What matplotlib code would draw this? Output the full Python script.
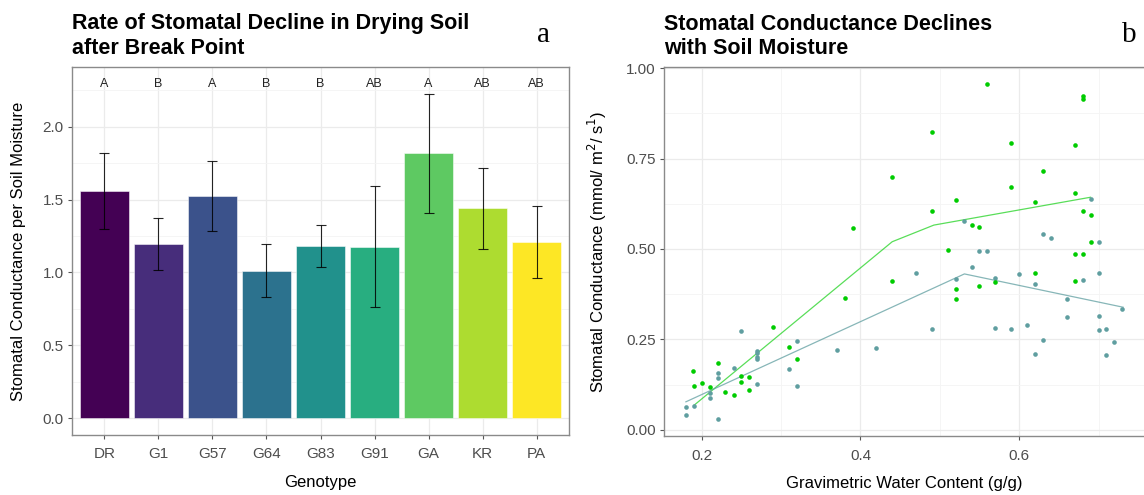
import numpy as np
import matplotlib.pyplot as plt

plt.rcParams['font.family'] = ['Liberation Sans', 'DejaVu Sans']

# bar chart: slope of conductance vs soil moisture per genotype
genotype = ['DR', 'G1', 'G57', 'G64', 'G83', 'G91', 'GA', 'KR', 'PA']
rate = [1.56, 1.197, 1.525, 1.013, 1.18, 1.178, 1.817, 1.44, 1.206]
rate_se = [0.26, 0.178, 0.24, 0.183, 0.144, 0.417, 0.41, 0.277, 0.247]
groups = ['A', 'B', 'A', 'B', 'B', 'AB', 'A', 'AB', 'AB']
group_y = 2.29

# scatter: gs vs gravimetric water content, two treatments
wet_x = [0.1895, 0.19, 0.20, 0.21, 0.22, 0.2295, 0.24, 0.25, 0.25, 0.26, 0.26,
         0.29, 0.31, 0.32, 0.38, 0.39, 0.44, 0.44, 0.49, 0.49, 0.51, 0.52, 0.52,
         0.52, 0.54, 0.55, 0.55, 0.56, 0.57, 0.59, 0.59, 0.62, 0.62, 0.63, 0.67,
         0.67, 0.67, 0.67, 0.68, 0.68, 0.68, 0.68, 0.69, 0.69]
wet_y = [0.162, 0.121, 0.130, 0.119, 0.184, 0.106, 0.095, 0.148, 0.132, 0.145, 0.109,
         0.285, 0.230, 0.195, 0.365, 0.557, 0.412, 0.698, 0.605, 0.823, 0.496, 0.388, 0.361,
         0.635, 0.566, 0.561, 0.399, 0.957, 0.408, 0.671, 0.793, 0.434, 0.629, 0.715, 0.412,
         0.485, 0.655, 0.788, 0.487, 0.605, 0.915, 0.924, 0.520, 0.594]
dry_x = [0.18, 0.18, 0.19, 0.21, 0.21, 0.22, 0.22, 0.22, 0.24, 0.25, 0.27, 0.27,
         0.27, 0.27, 0.27, 0.31, 0.32, 0.32, 0.37, 0.42, 0.47, 0.49, 0.52, 0.53,
         0.54, 0.55, 0.56, 0.57, 0.57, 0.59, 0.60, 0.61, 0.62, 0.62, 0.63, 0.63,
         0.64, 0.66, 0.66, 0.68, 0.69, 0.70, 0.70, 0.70, 0.70, 0.71, 0.71, 0.72, 0.73]
dry_y = [0.064, 0.042, 0.066, 0.101, 0.087, 0.158, 0.144, 0.029, 0.172, 0.273, 0.219, 0.213,
         0.202, 0.195, 0.127, 0.169, 0.246, 0.122, 0.221, 0.225, 0.434, 0.280, 0.417, 0.577,
         0.451, 0.494, 0.494, 0.421, 0.282, 0.279, 0.430, 0.290, 0.404, 0.210, 0.541, 0.249,
         0.531, 0.363, 0.311, 0.414, 0.637, 0.520, 0.434, 0.316, 0.275, 0.280, 0.206, 0.244, 0.335]

# fitted segmented lines
wet_fit_x = [0.19, 0.44, 0.4925, 0.69]
wet_fit_y = [0.0675, 0.520, 0.566, 0.643]
dry_fit_x = [0.18, 0.531, 0.731]
dry_fit_y = [0.0775, 0.431, 0.339]

wet_col = '#00CC00'
dry_col = '#5F9EA0'
grid_major = '#EBEBEB'
grid_minor = '#F4F4F4'
border = '#8A8A8A'
tick_txt = '#4D4D4D'

fig = plt.figure(figsize=(11.44, 4.95), dpi=100)
ax1 = fig.add_axes([72/1144, 60/495, 497/1144, 368/495])
ax2 = fig.add_axes([664/1144, 59/495, 481/1144, 369/495])


def style(ax):
    ax.set_axisbelow(True)
    ax.grid(which='major', color=grid_major, lw=0.9)
    ax.grid(which='minor', color=grid_minor, lw=0.6)
    for s in ax.spines.values():
        s.set_color(border)
        s.set_linewidth(1.0)
    ax.tick_params(which='major', length=3, color='#555555', labelcolor=tick_txt,
                   labelsize=11, pad=3)
    ax.tick_params(axis='x', which='major', pad=6)
    ax.tick_params(which='minor', length=0)


# ---- a: bars
xpos = np.arange(len(genotype))
cols = plt.cm.viridis(np.linspace(0, 1, len(genotype)))
ax1.bar(xpos, rate, width=0.9, color=cols, edgecolor=(1, 1, 1, 0.6), linewidth=0.6, zorder=2)
ax1.errorbar(xpos, rate, yerr=rate_se, fmt='none', ecolor='black', elinewidth=0.8,
             capsize=3.9, capthick=0.8, alpha=0.85, zorder=3)
for x, g in zip(xpos, groups):
    ax1.text(x, group_y, g, ha='center', va='center', fontsize=9, color='#222222')
ax1.set_xlim(-0.6, 8.6)
ax1.set_ylim(-0.115, 2.41)
ax1.set_xticks(xpos)
ax1.set_xticklabels(genotype)
ax1.set_yticks([0, 0.5, 1.0, 1.5, 2.0])
ax1.set_yticks([0.25, 0.75, 1.25, 1.75, 2.25], minor=True)
style(ax1)
ax1.set_xlabel('Genotype', fontsize=12, labelpad=10)
ax1.set_ylabel('Stomatal Conductance per Soil Moisture', fontsize=12, labelpad=12)
ax1.set_title('Rate of Stomatal Decline in Drying Soil\nafter Break Point', loc='left',
              fontsize=15.5, fontweight='bold', pad=9, linespacing=1.25)

# ---- b: scatter
ax2.plot(wet_fit_x, wet_fit_y, color=wet_col, lw=0.9, alpha=0.65, zorder=2)
ax2.plot(dry_fit_x, dry_fit_y, color=dry_col, lw=0.9, alpha=0.75, zorder=2)
ax2.scatter(dry_x, dry_y, s=11, color=dry_col, linewidths=0, zorder=3)
ax2.scatter(wet_x, wet_y, s=11, color=wet_col, linewidths=0, zorder=3)
ax2.set_xlim(0.1524, 0.7586)
ax2.set_ylim(-0.017, 1.003)
ax2.set_xticks([0.2, 0.4, 0.6])
ax2.set_xticks([0.3, 0.5, 0.7], minor=True)
ax2.set_yticks([0, 0.25, 0.5, 0.75, 1.0])
ax2.set_yticks([0.125, 0.375, 0.625, 0.875], minor=True)
ax2.set_yticklabels(['0.00', '0.25', '0.50', '0.75', '1.00'])
style(ax2)
ax2.set_xlabel('Gravimetric Water Content (g/g)', fontsize=12, labelpad=10)
ax2.set_ylabel('Stomatal Conductance (mmol/ m$^2$/ s$^1$)', fontsize=12, labelpad=12)
ax2.set_title('Stomatal Conductance Declines\nwith Soil Moisture', loc='left',
              fontsize=15.5, fontweight='bold', pad=9, linespacing=1.25)

# panel letters
fig.text(543/1144, 1 - 35/495, 'a', fontsize=21, family='Liberation Serif', ha='center', va='center')
fig.text(1129/1144, 1 - 35/495, 'b', fontsize=21, family='Liberation Serif', ha='center', va='center')

fig.savefig('out.png', dpi=100)
